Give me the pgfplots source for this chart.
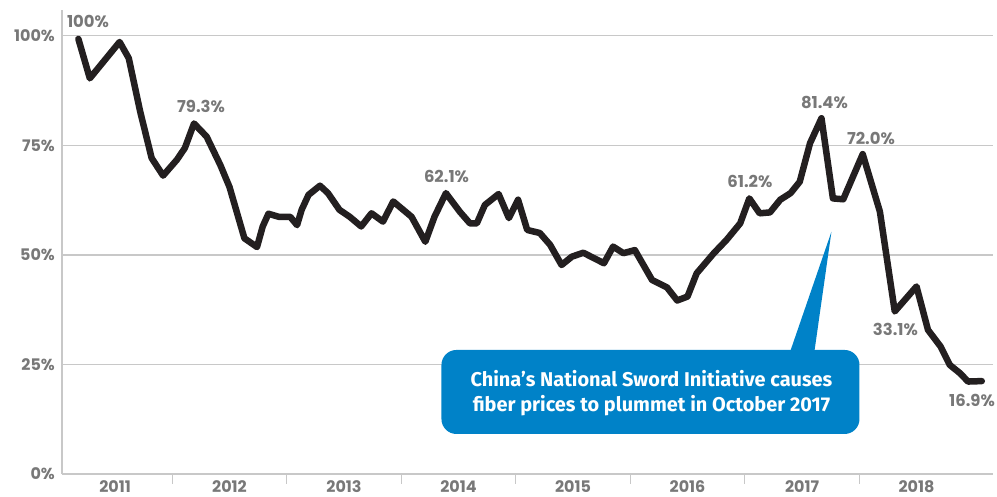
\documentclass[border=0pt]{standalone}
\usepackage{fontspec}
\usepackage{pgfplots}
\pgfplotsset{compat=1.18}
\setmainfont{Poppins}
\newfontfamily\calloutfont{Fira Sans}
\definecolor{gridgray}{RGB}{200,200,200}
\definecolor{labelgray}{RGB}{120,120,120}
\definecolor{lineblack}{RGB}{35,31,32}
\definecolor{calloutblue}{RGB}{0,130,200}
\tikzset{lbl/.style={font=\bfseries\fontsize{16.5}{16.5}\selectfont, text=labelgray, inner sep=0pt}}

\begin{document}
\begin{tikzpicture}
\begin{axis}[
  at={(0,0)}, anchor=south west,
  scale only axis, width=931bp, height=464bp,
  xmin=2011.037, xmax=2019.168, ymin=0, ymax=105.9,
  clip=false,
  axis lines=left,
  axis line style={-, gridgray, line width=1.3bp},
  ytick={0,25,50,75,100},
  yticklabels={0\%,25\%,50\%,75\%,100\%},
  ymajorgrids,
  grid style={gridgray, line width=1.3bp},
  xtick={2011.5,2012.5,2013.5,2014.5,2015.5,2016.5,2017.5,2018.5},
  xticklabels={2011,2012,2013,2014,2015,2016,2017,2018},
  minor xtick={2012,2013,2014,2015,2016,2017,2018},
  major tick length=0pt,
  minor tick length=10bp,
  tick align=outside,
  minor tick style={gridgray, line width=1.3bp},
  ticklabel style={font=\bfseries\fontsize{16}{16}\selectfont, text=labelgray, inner sep=0pt},
  yticklabel style={anchor=east, xshift=-7bp},
  xticklabel style={anchor=base, yshift=-18bp},
]
\addplot[lineblack, line width=6.5bp, line join=round, line cap=round] coordinates {
(2011.18,99.3) (2011.28,90.3) (2011.54,98.6) (2011.62,94.9) (2011.72,82.7)
(2011.82,72.1) (2011.92,68.1) (2012.04,71.7) (2012.11,74.4) (2012.19,80.0)
(2012.30,77.0) (2012.42,70.5) (2012.50,65.5) (2012.63,53.8) (2012.74,51.8)
(2012.79,56.5) (2012.84,59.4) (2012.93,58.7) (2013.03,58.7) (2013.09,56.8)
(2013.13,60.3) (2013.19,63.7) (2013.29,65.8) (2013.36,64.1) (2013.46,60.3)
(2013.55,58.7) (2013.65,56.5) (2013.74,59.5) (2013.84,57.6) (2013.93,62.2)
(2014.09,58.7) (2014.21,53.0) (2014.29,58.7) (2014.39,64.1) (2014.51,59.9)
(2014.60,57.2) (2014.66,57.2) (2014.73,61.4) (2014.85,63.9) (2014.94,58.4)
(2015.02,62.6) (2015.10,55.7) (2015.21,55.0) (2015.30,52.3) (2015.40,47.7)
(2015.49,49.6) (2015.59,50.5) (2015.77,48.1) (2015.85,51.9) (2015.94,50.4)
(2016.04,51.1) (2016.19,44.3) (2016.32,42.6) (2016.41,39.6) (2016.50,40.5)
(2016.58,45.8) (2016.73,50.4) (2016.84,53.4) (2016.96,57.2) (2017.04,62.9)
(2017.13,59.5) (2017.22,59.7) (2017.31,62.6) (2017.40,64.1) (2017.48,66.7)
(2017.57,75.5) (2017.67,81.2) (2017.77,62.9) (2017.86,62.7) (2018.03,73.0)
(2018.18,59.9) (2018.31,37.1) (2018.50,42.8) (2018.60,32.9) (2018.71,29.1)
(2018.79,24.9) (2018.88,23.0) (2018.95,21.1) (2019.07,21.2)
};
% value labels
\node[lbl] at (axis cs:2011.264,103.2) {100\%};
\node[lbl] at (axis cs:2012.251,83.8) {79.3\%};
\node[lbl] at (axis cs:2014.395,68.0) {62.1\%};
\node[lbl] at (axis cs:2017.045,66.7) {61.2\%};
\node[lbl] at (axis cs:2017.696,84.9) {81.4\%};
\node[lbl] at (axis cs:2018.102,76.5) {72.0\%};
\node[lbl] at (axis cs:2018.316,32.9) {33.1\%};
\node[lbl] at (axis cs:2018.985,16.9) {16.9\%};
% callout
\fill[calloutblue, rounded corners=15bp] (axis cs:2014.351,9.13) rectangle (axis cs:2018.002,28.31);
\fill[calloutblue] (axis cs:2017.384,27.0) -- (axis cs:2017.757,55.3) -- (axis cs:2017.603,27.0) -- cycle;
\node[text=white, align=center, inner sep=0pt,
  font=\calloutfont\bfseries\fontsize{20}{25}\selectfont]
  at (axis cs:2016.185,18.5) {China’s National Sword Initiative causes\\fiber prices to plummet in October 2017};
\end{axis}
\path (-62bp,-23bp) rectangle (935bp,474bp);
\end{tikzpicture}
\end{document}
